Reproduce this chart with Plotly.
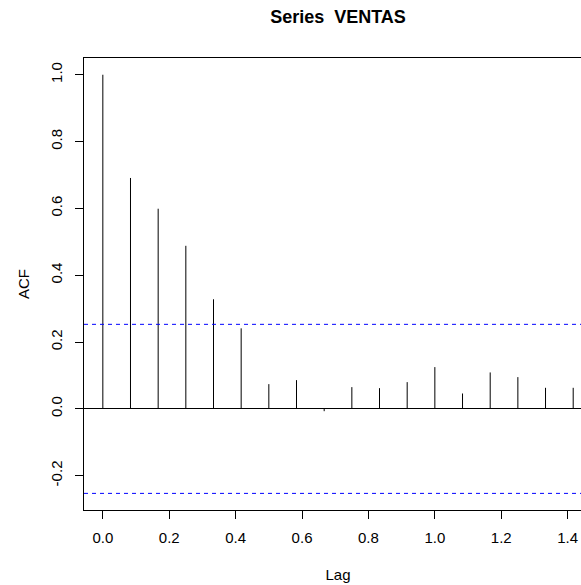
import plotly.graph_objects as go

# ACF values (monthly series, lag in years)
lags_months = [0, 1, 2, 3, 4, 5, 6, 7, 8, 9, 10, 11, 12, 13, 14, 15, 16, 17]
acf_values = [1.0, 0.691, 0.599, 0.488, 0.328, 0.241, 0.074, 0.086, -0.007,
              0.065, 0.062, 0.080, 0.125, 0.046, 0.109, 0.095, 0.063, 0.063]
frequency = 12
ci_value = [0.253]
y_tick_vals = [-0.2, 0.0, 0.2, 0.4, 0.6, 0.8, 1.0]
y_tick_text = ["-0.2", "0.0", "0.2", "0.4", "0.6", "0.8", "1.0"]
x_tick_vals = [0.0, 0.2, 0.4, 0.6, 0.8, 1.0, 1.2, 1.4]
x_tick_text = ["0.0", "0.2", "0.4", "0.6", "0.8", "1.0", "1.2", "1.4"]

lags = [m / frequency for m in lags_months]
xs, ys = [], []
for lg, v in zip(lags, acf_values):
    xs += [lg, lg, None]
    ys += [0, v, None]

FONT = "Liberation Sans, Arial, sans-serif"

fig = go.Figure()
fig.add_trace(go.Scatter(x=xs, y=ys, mode="lines",
                         line=dict(color="black", width=1),
                         hoverinfo="skip", showlegend=False))

for c in ci_value:
    for val in (c, -c):
        fig.add_shape(type="line", xref="paper", x0=0, x1=1, yref="y", y0=val, y1=val,
                      line=dict(color="#0000FF", width=1, dash="4px,4px"))

W, H = 592, 585
fig.update_layout(
    width=W, height=H,
    margin=dict(l=84, r=0, t=58, b=75),
    paper_bgcolor="white", plot_bgcolor="white",
    font=dict(family=FONT, size=15, color="black"),
    title=dict(text="<b>Series  VENTAS</b>", x=338 / W, xanchor="center",
               y=1 - 17 / H, yanchor="middle",
               font=dict(family=FONT, size=18, color="black")),
    showlegend=False,
)
fig.update_xaxes(
    range=[-0.0567, 1.4733],
    tickvals=x_tick_vals, ticktext=x_tick_text,
    ticks="outside", ticklen=8, tickcolor="black", tickwidth=1,
    ticklabelstandoff=6,
    showline=True, linecolor="black", linewidth=1, mirror=True,
    showgrid=False, zeroline=False,
    title=dict(text="Lag", standoff=24, font=dict(size=15)),
)
fig.update_yaxes(
    range=[-0.3027, 1.0501],
    tickvals=y_tick_vals, ticktext=y_tick_text, tickangle=-90,
    ticks="outside", ticklen=8, tickcolor="black", tickwidth=1,
    ticklabelstandoff=7,
    showline=True, linecolor="black", linewidth=1, mirror=True,
    showgrid=False, zeroline=True, zerolinecolor="black", zerolinewidth=1,
    title=dict(text="ACF", standoff=14, font=dict(size=15)),
)

fig.write_html(
    "out.html",
    config={"displayModeBar": False},
    post_script="document.body.style.margin='0';document.body.style.overflow='hidden';",
)
